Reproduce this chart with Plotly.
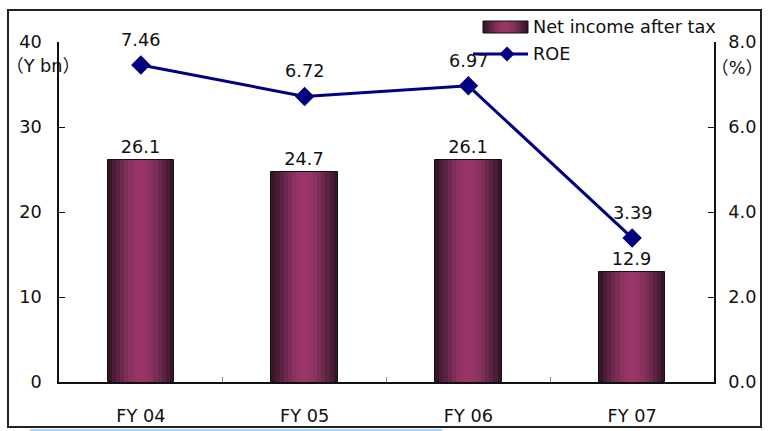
import plotly.graph_objects as go

# Data
years = ["FY 04", "FY 05", "FY 06", "FY 07"]
net_income = [26.1, 24.7, 26.1, 12.9]   # Y bn
roe = [7.46, 6.72, 6.97, 3.39]          # %
left_ticks = [0, 10, 20, 30, 40]
right_ticks = [0, 2, 4, 6, 8]
right_tick_text = ["0.0", "2.0", "4.0", "6.0", "8.0"]

FONT = "DejaVu Sans, Noto Sans CJK JP"
FS = 17.7
W, H = 768, 431
ML, MR, MT, MB = 59, 54, 42, 49
PW, PH = W - ML - MR, H - MT - MB

# shades of the cylinder-like bar, from outer edge to centre
shades = ["#3a1528", "#4a1c35", "#5b2342", "#6c294d", "#7c2e57", "#8a3260", "#943464", "#9a3667"]
bar_width = 0.407

fig = go.Figure()
n = len(shades)
for i, c in enumerate(shades):
    w = bar_width * (1 - i / n)
    fig.add_trace(go.Bar(
        x=years, y=net_income, width=w,
        marker=dict(color=c, line=dict(color="#111111", width=1 if i == 0 else 0)),
        text=[f"{v:.1f}" for v in net_income] if i == 0 else None,
        textposition="outside" if i == 0 else "none",
        textfont=dict(family=FONT, size=FS, color="#111111"),
        cliponaxis=False, showlegend=False, hoverinfo="skip",
    ))

fig.add_trace(go.Scatter(
    x=years, y=roe, yaxis="y2", mode="lines+markers",
    line=dict(color="#000080", width=3),
    marker=dict(symbol="diamond", size=15, color="#000080"),
    showlegend=False, cliponaxis=False,
))

annotations = []
for xv, v in zip(years, roe):
    annotations.append(dict(x=xv, y=v, xref="x", yref="y2", text=f"{v:.2f}",
                            showarrow=False, yshift=25,
                            font=dict(family=FONT, size=FS, color="#111111")))

def px(xp):
    return (xp - ML) / PW

def py(yp):
    return (H - MB - yp) / PH

# axis unit captions
annotations.append(dict(x=px(43), y=py(66), xref="paper", yref="paper", text="（Y bn）",
                        showarrow=False, xanchor="center", yanchor="middle",
                        font=dict(family=FONT, size=FS, color="#111111")))
annotations.append(dict(x=px(737), y=py(68), xref="paper", yref="paper", text="（%）",
                        showarrow=False, xanchor="center", yanchor="middle",
                        font=dict(family=FONT, size=FS, color="#111111")))
# legend texts
annotations.append(dict(x=px(531), y=py(27), xref="paper", yref="paper", text="Net income after tax",
                        showarrow=False, xanchor="left", yanchor="middle",
                        font=dict(family=FONT, size=FS, color="#111111")))
annotations.append(dict(x=px(531), y=py(54), xref="paper", yref="paper", text="ROE",
                        showarrow=False, xanchor="left", yanchor="middle",
                        font=dict(family=FONT, size=FS, color="#111111")))

shapes = []
# outer frame
shapes.append(dict(type="rect", xref="paper", yref="paper",
                   x0=px(8), x1=px(761), y0=py(427), y1=py(10),
                   line=dict(color="#222222", width=2), fillcolor="rgba(0,0,0,0)"))
# thin light-blue rule below the frame
shapes.append(dict(type="line", xref="paper", yref="paper",
                   x0=px(30), x1=px(442), y0=py(430), y1=py(430),
                   line=dict(color="#a9d3ff", width=2)))
# legend swatch for the bars
sx0, sx1, sy0, sy1 = 483, 528, 21, 33
for i, c in enumerate(shades):
    inset = (sx1 - sx0) / 2 * i / n
    shapes.append(dict(type="rect", xref="paper", yref="paper",
                       x0=px(sx0 + inset), x1=px(sx1 - inset), y0=py(sy1), y1=py(sy0),
                       line=dict(width=0), fillcolor=c, layer="above"))
shapes.append(dict(type="rect", xref="paper", yref="paper",
                   x0=px(sx0), x1=px(sx1), y0=py(sy1), y1=py(sy0),
                   line=dict(color="#111111", width=1), fillcolor="rgba(0,0,0,0)"))
# legend line + diamond for ROE
shapes.append(dict(type="line", xref="paper", yref="paper",
                   x0=px(473), x1=px(528), y0=py(54), y1=py(54),
                   line=dict(color="#000080", width=3)))
cx, cy, r = 507, 54, 7.5
shapes.append(dict(type="path", xref="paper", yref="paper",
                   path=f"M {px(cx)},{py(cy - r)} L {px(cx + r)},{py(cy)} L {px(cx)},{py(cy + r)} L {px(cx - r)},{py(cy)} Z",
                   line=dict(width=0), fillcolor="#000080"))

fig.update_layout(
    width=W, height=H,
    margin=dict(l=ML, r=MR, t=MT, b=MB, autoexpand=False),
    paper_bgcolor="white", plot_bgcolor="white",
    barmode="overlay", bargap=0,
    font=dict(family=FONT, size=FS, color="#111111"),
    xaxis=dict(type="category", range=[-0.5, 3.5], showgrid=False, zeroline=False,
               showline=True, linecolor="#111111", linewidth=1.5, automargin=False,
               tickson="boundaries", ticks="inside", ticklen=5, tickcolor="#888888",
               ticklabelstandoff=17, tickfont=dict(family=FONT, size=FS)),
    yaxis=dict(range=[0, 40], tickvals=left_ticks, showgrid=False, zeroline=False,
               showline=True, linecolor="#111111", linewidth=1.5, automargin=False,
               ticks="inside", ticklen=6, tickcolor="#111111",
               ticklabelstandoff=12, tickfont=dict(family=FONT, size=FS)),
    yaxis2=dict(range=[0, 8], tickvals=right_ticks, ticktext=right_tick_text,
                overlaying="y", side="right", showgrid=False, zeroline=False,
                showline=True, linecolor="#111111", linewidth=1.5, automargin=False,
                ticks="inside", ticklen=6, tickcolor="#111111",
                ticklabelstandoff=9, tickfont=dict(family=FONT, size=FS)),
    annotations=annotations, shapes=shapes,
)

fig.write_html("out.html")
